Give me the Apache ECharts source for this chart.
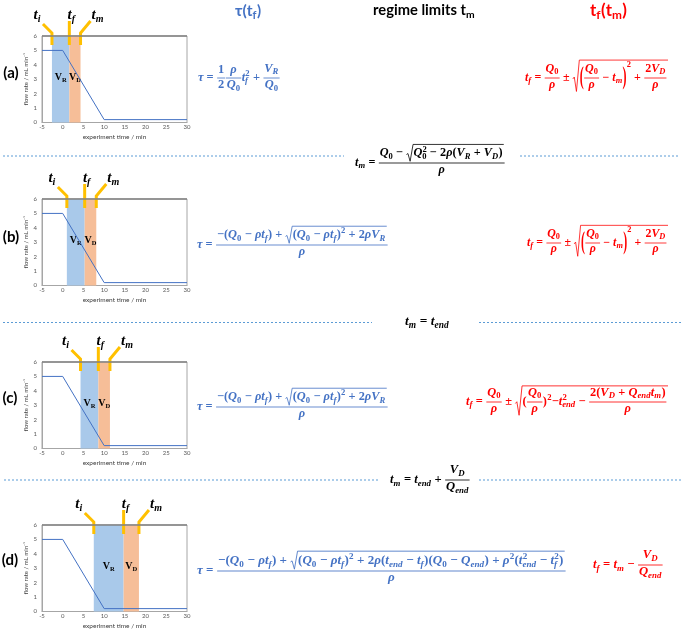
<!DOCTYPE html>
<html>
<head>
<meta charset="utf-8">
<script src="https://cdn.jsdelivr.net/npm/echarts@6.0.0/dist/echarts.min.js"></script>
<style>
  html, body { margin: 0; padding: 0; background: #fff; }
  #chart { width: 683px; height: 634px; }
</style>
</head>
<body>
<div id="chart"></div>
<script>
// flow-rate profile (same in every panel)
const timePts = [-5, 0, 10, 30];
const flowPts = [5, 5, 0.2, 0.2];
// boundaries of the V_R / V_D windows per panel
const panelNames = ['(a)', '(b)', '(c)', '(d)'];
const tiVals = [-2.6, 1.0, 4.3, 7.5];
const tfVals = [1.6, 5.3, 8.6, 14.7];
const tmVals = [4.3, 8.1, 11.4, 18.4];
const markerSubs = ['i', 'f', 'm'];
const bandSubs = ['R', 'D'];
const xName = 'experiment time / min';
const yName = 'flow rate / mL min⁻¹';

const BLUE = '#4472C4', RED = '#FF0000', YEL = '#FFC000';
const SERIF = '"Liberation Serif", "DejaVu Serif", serif';
const SANS = 'Lato, "Open Sans", sans-serif';
const panelTops = [36, 199, 362, 525];
const panelLabelPos = [[11, 73], [11, 237], [10, 398], [10, 560]];

// ---- tiny equation layout helper ----
const mctx = document.createElement('canvas').getContext('2d');
function fnt(n, size) { return (n.it ? 'italic ' : '') + 'bold ' + size + 'px ' + n.fam; }
function textW(s, font) { mctx.font = font; return mctx.measureText(s).width; }
function T(s, it, fam) { return { k: 't', s: s, it: !!it, fam: fam || SERIF }; }
function M(str) {
  const out = []; let cur = null;
  for (const ch of str) {
    const it = /[A-Za-zα-ω]/.test(ch);
    if (cur && cur.it === it) cur.s += ch; else { cur = T(ch, it); out.push(cur); }
  }
  return out.length === 1 ? out[0] : { k: 'row', c: out };
}
function Row() { return { k: 'row', c: Array.from(arguments) }; }
function F(n, d) { return { k: 'frac', n: n, d: d }; }
function R(b) { return { k: 'sqrt', b: b }; }
function P(b) { return { k: 'par', b: b }; }
function SS(base, sub, sup) { return { k: 'ss', base: base, sub: sub, sup: sup }; }

function lay(n, size, col) {
  if (n.k === 't') {
    const font = fnt(n, size), w = textW(n.s, font);
    return { w: w, a: 0.7 * size, d: 0.2 * size, draw: (x, y) => [{
      type: 'text', x: x, y: y - 0.3 * size,
      style: { text: n.s, font: font, fill: col, verticalAlign: 'middle', align: 'left' } }] };
  }
  if (n.k === 'row') {
    const bs = n.c.map(c => lay(c, size, col));
    return {
      w: bs.reduce((s, b) => s + b.w, 0),
      a: Math.max.apply(null, bs.map(b => b.a)),
      d: Math.max.apply(null, bs.map(b => b.d)),
      draw: (x, y) => { let cx = x; const els = []; bs.forEach(b => { els.push.apply(els, b.draw(cx, y)); cx += b.w; }); return els; }
    };
  }
  if (n.k === 'frac') {
    const nb = lay(n.n, size, col), db = lay(n.d, size, col);
    const ax = 0.27 * size, g = 0.14 * size, pad = 0.1 * size;
    const w = Math.max(nb.w, db.w) + 2 * pad;
    return { w: w, a: ax + g + nb.d + nb.a, d: -ax + g + db.a + db.d, draw: (x, y) => {
      const by = y - ax;
      return nb.draw(x + (w - nb.w) / 2, by - g - nb.d)
        .concat(db.draw(x + (w - db.w) / 2, by + g + db.a))
        .concat([{ type: 'line', shape: { x1: x + pad * 0.3, y1: by, x2: x + w - pad * 0.3, y2: by },
          style: { stroke: col, lineWidth: 0.065 * size } }]);
    } };
  }
  if (n.k === 'sqrt') {
    const bb = lay(n.b, size, col);
    const sw = 0.6 * size, ex = 0.1 * size, lw = 0.065 * size;
    const top = bb.a + 0.12 * size, bot = bb.d + 0.03 * size;
    return { w: sw + bb.w + ex, a: top + lw, d: bot, draw: (x, y) => {
      const t = y - top, b = y + bot, h = b - t;
      return [{ type: 'polyline', shape: { points: [[x + 0.02 * size, b - h * 0.4], [x + 0.14 * size, b - h * 0.46],
        [x + 0.32 * size, b], [x + sw - 0.04 * size, t], [x + sw + bb.w + ex, t]] },
        style: { stroke: col, fill: null, lineWidth: lw } }].concat(bb.draw(x + sw, y));
    } };
  }
  if (n.k === 'par') {
    const bb = lay(n.b, size, col);
    const l = lay(T('('), size, col), r = lay(T(')'), size, col);
    const h = bb.a + bb.d;
    if (h < 1.3 * size) {
      return { w: l.w + bb.w + r.w, a: Math.max(bb.a, l.a), d: Math.max(bb.d, l.d),
        draw: (x, y) => l.draw(x, y).concat(bb.draw(x + l.w, y), r.draw(x + l.w + bb.w, y)) };
    }
    const a = bb.a + 0.05 * size, d = bb.d + 0.05 * size, k = (a + d) / (1.1 * size);
    const font = fnt(T('('), size);
    const mk = (ch, x, m) => ({ type: 'text', x: x, y: m, scaleY: k,
      style: { text: ch, font: font, fill: col, verticalAlign: 'middle', align: 'left' } });
    return { w: l.w + bb.w + r.w, a: a, d: d, draw: (x, y) => {
      const m = y + (d - a) / 2;
      return [mk('(', x, m)].concat(bb.draw(x + l.w, y), [mk(')', x + l.w + bb.w, m)]);
    } };
  }
  if (n.k === 'ss') {
    const bb = lay(n.base, size, col), s2 = 0.7 * size;
    const sb = n.sub ? lay(n.sub, s2, col) : null, pb = n.sup ? lay(n.sup, s2, col) : null;
    const subY = Math.max(0.2 * size, bb.d - 0.1 * size);
    const supY = Math.max(0.4 * size, bb.a - 0.35 * size);
    const w = bb.w + Math.max(sb ? sb.w : 0, pb ? pb.w : 0) + 0.03 * size;
    return { w: w, a: Math.max(bb.a, pb ? supY + pb.a : 0), d: Math.max(bb.d, sb ? subY + sb.d : 0),
      draw: (x, y) => {
        let els = bb.draw(x, y);
        if (sb) els = els.concat(sb.draw(x + bb.w, y + subY));
        if (pb) els = els.concat(pb.draw(x + bb.w + 0.02 * size, y - supY));
        return els;
      } };
  }
}
function place(node, col, x0, x1, yAx) {
  const B = 12, b = lay(node, B, col), s = (x1 - x0) / b.w;
  return { type: 'group', x: x0, y: yAx + 0.27 * B * s, scaleX: s, scaleY: s, children: b.draw(0, 0) };
}

// ---- equation pieces ----
const Q0 = SS(M('Q'), M('0'));
const tf = SS(M('t'), M('f'));
const tm = SS(M('t'), M('m'));
const tend = SS(M('t'), M('end'));
const VR = SS(M('V'), M('R'));
const VD = SS(M('V'), M('D'));
const Qend = SS(M('Q'), M('end'));
const rho = M('ρ');
const sqTerm = SS(P(Row(Q0, M(' − ρ'), tf)), null, M('2'));
const tauB = Row(M('τ = '), F(Row(M('−'), P(Row(Q0, M(' − ρ'), tf)), M(' + '), R(Row(sqTerm, M(' + 2ρ'), VR))), rho));
const redA = Row(tf, M(' = '), F(Q0, rho), M(' ± '),
  R(Row(SS(P(Row(F(Q0, rho), M(' − '), tm)), null, M('2')), M(' + '), F(Row(M('2'), VD), rho))));

const eqs = [
  place(Row(M('τ = '), F(M('1'), M('2')), F(rho, Q0), SS(M('t'), M('f'), M('2')), M(' + '), F(VR, Q0)), BLUE, 198, 280, 78),
  place(redA, RED, 525, 668, 78),
  place(Row(tm, M(' = '), F(Row(Q0, M(' − '), R(Row(SS(M('Q'), M('0'), M('2')), M(' − 2ρ'), P(Row(VR, M(' + '), VD))))), rho)),
    '#000', 355, 505, 163),
  place(tauB, BLUE, 197, 388, 245),
  place(redA, RED, 527, 668, 243),
  place(Row(tm, M(' = '), tend), '#000', 405, 449, 322),
  place(tauB, BLUE, 197, 388, 407),
  place(Row(tf, M(' = '), F(Q0, rho), M(' ± '), R(Row(M('('), F(Q0, rho), SS(M(')'), null, M('2')), M('−'),
    SS(M('t'), M('end'), M('2')), M(' − '), F(Row(M('2'), P(Row(VD, M(' + '), Qend, tm))), rho)))), RED, 466, 668, 402),
  place(Row(tm, M(' = '), tend, M(' + '), F(VD, Qend)), '#000', 390, 470, 480),
  place(Row(M('τ = '), F(Row(M('−'), P(Row(Q0, M(' − ρ'), tf)), M(' + '),
    R(Row(sqTerm, M(' + 2ρ'), P(Row(tend, M(' − '), tf)), P(Row(Q0, M(' − '), Qend)), M(' + '),
      SS(M('ρ'), null, M('2')), P(Row(SS(M('t'), M('end'), M('2')), M(' − '), SS(M('t'), M('f'), M('2'))))))), rho)),
    BLUE, 197, 566, 571),
  place(Row(tf, M(' = '), tm, M(' − '), F(VD, Qend)), RED, 593, 663, 565),
  // column titles
  place(SS(T('τ(t', false, SANS), T('f', false, SANS)), BLUE, 235, 257, 11),
  { type: 'text', x: 257, y: 11, style: { text: ')', font: 'bold 15px ' + SANS, fill: BLUE, verticalAlign: 'middle' } },
  place(SS(T('regime limits t', false, SANS), T('m', false, SANS)), '#000', 373, 475, 11),
  place(Row(SS(T('t', false, SANS), T('f', false, SANS)), T('(', false, SANS), SS(T('t', false, SANS), T('m', false, SANS)), T(')', false, SANS)), RED, 590, 627, 11)
];

// separators
const dash = (x1, x2, y) => ({ type: 'line', shape: { x1: x1, y1: y, x2: x2, y2: y },
  style: { stroke: '#5B9BD5', lineWidth: 1, lineDash: [2, 2] } });
const seps = [dash(3, 344, 156), dash(520, 680, 156), dash(3, 372, 322.5), dash(479, 681, 322.5), dash(4, 379, 480), dash(479, 681, 480)];
const labels = panelNames.map((t, i) => ({ type: 'text', x: panelLabelPos[i][0], y: panelLabelPos[i][1],
  style: { text: t, font: 'bold 15px ' + SANS, fill: '#000', align: 'center', verticalAlign: 'middle' } }));

// ---- charts ----
const grids = [], xAxes = [], yAxes = [], series = [];
const lineData = timePts.map((t, i) => [t, flowPts[i]]);
const axisText = { fontSize: 6, color: '#595959', fontFamily: SANS };

panelTops.forEach((top, i) => {
  grids.push({ left: 42, top: top, width: 145, height: 86.5, show: true, borderColor: '#a6a6a6', borderWidth: 1 });
  xAxes.push({ gridIndex: i, type: 'value', min: -5, max: 30, interval: 5,
    name: xName, nameLocation: 'middle', nameGap: 11, nameTextStyle: { fontSize: 6.5, color: '#404040', fontFamily: SANS },
    axisLabel: Object.assign({ margin: 2 }, axisText), axisTick: { show: false },
    axisLine: { onZero: false, lineStyle: { color: '#a6a6a6' } }, splitLine: { show: false } });
  yAxes.push({ gridIndex: i, type: 'value', min: 0, max: 6, interval: 1,
    name: yName, nameLocation: 'middle', nameGap: 13, nameTextStyle: { fontSize: 6, color: '#404040', fontFamily: SANS },
    axisLabel: Object.assign({ margin: 5 }, axisText), axisTick: { show: false },
    axisLine: { show: true, onZero: false, lineStyle: { color: '#a6a6a6' } }, splitLine: { show: false } });

  // V_R and V_D windows
  series.push({
    type: 'custom', xAxisIndex: i, yAxisIndex: i, z: 1, silent: true,
    data: [[tiVals[i], tfVals[i], 0], [tfVals[i], tmVals[i], 1]],
    renderItem: (params, api) => {
      const p0 = api.coord([api.value(0), 6]), p1 = api.coord([api.value(1), 0]);
      const k = api.value(2), cx = (p0[0] + p1[0]) / 2, cy = api.coord([0, 3.1])[1];
      const vf = 'bold 10px ' + SERIF, sf = 'bold 6.5px ' + SERIF;
      const vw = textW('V', vf), sw = textW(bandSubs[k], sf), lx = cx - (vw + sw) / 2;
      return { type: 'group', children: [
        { type: 'rect', shape: { x: p0[0], y: p0[1], width: p1[0] - p0[0], height: p1[1] - p0[1] },
          style: { fill: k ? '#F6BE98' : '#A9C9EA' } },
        { type: 'text', x: lx, y: cy, style: { text: 'V', font: vf, fill: '#000', verticalAlign: 'middle' } },
        { type: 'text', x: lx + vw, y: cy + 2.5, style: { text: bandSubs[k], font: sf, fill: '#000', verticalAlign: 'middle' } }
      ] };
    }
  });
  series.push({
    type: 'line', xAxisIndex: i, yAxisIndex: i, z: 3, data: lineData, showSymbol: false, silent: true,
    lineStyle: { color: BLUE, width: 1 },
    markLine: { silent: true, symbol: 'none', label: { show: false }, data: [{ yAxis: 6 }],
      lineStyle: { color: '#808080', width: 1.5, type: 'solid' } }
  });
  // t_i, t_f, t_m pointers
  series.push({
    type: 'custom', xAxisIndex: i, yAxisIndex: i, z: 4, clip: false, silent: true,
    data: [[tiVals[i], 0], [tfVals[i], 1], [tmVals[i], 2]],
    renderItem: (params, api) => {
      const p = api.coord([api.value(0), 6]), k = api.value(1), x = p[0], y = p[1];
      const pts = k === 0 ? [[x, y + 9], [x, y - 3], [x - 9, y - 12]]
        : k === 1 ? [[x, y + 9], [x, y - 15]] : [[x, y + 9], [x, y - 3], [x + 10, y - 15]];
      const off = [-15, 2, 17][k];
      const tfn = 'italic bold 15px ' + SERIF, sfn = 'italic bold 10px ' + SERIF;
      const tw = textW('t', tfn), sw = textW(markerSubs[k], sfn), lx = x + off - (tw + sw) / 2, ly = y - 21;
      return { type: 'group', children: [
        { type: 'polyline', shape: { points: pts }, style: { stroke: YEL, lineWidth: 3, fill: null } },
        { type: 'text', x: lx, y: ly, style: { text: 't', font: tfn, fill: '#000', verticalAlign: 'middle' } },
        { type: 'text', x: lx + tw, y: ly + 4, style: { text: markerSubs[k], font: sfn, fill: '#000', verticalAlign: 'middle' } }
      ] };
    }
  });
});

const chart = echarts.init(document.getElementById('chart'));
chart.setOption({
  backgroundColor: '#fff',
  animation: false,
  grid: grids,
  xAxis: xAxes,
  yAxis: yAxes,
  series: series,
  graphic: { elements: seps.concat(labels, eqs) }
});
</script>
</body>
</html>
